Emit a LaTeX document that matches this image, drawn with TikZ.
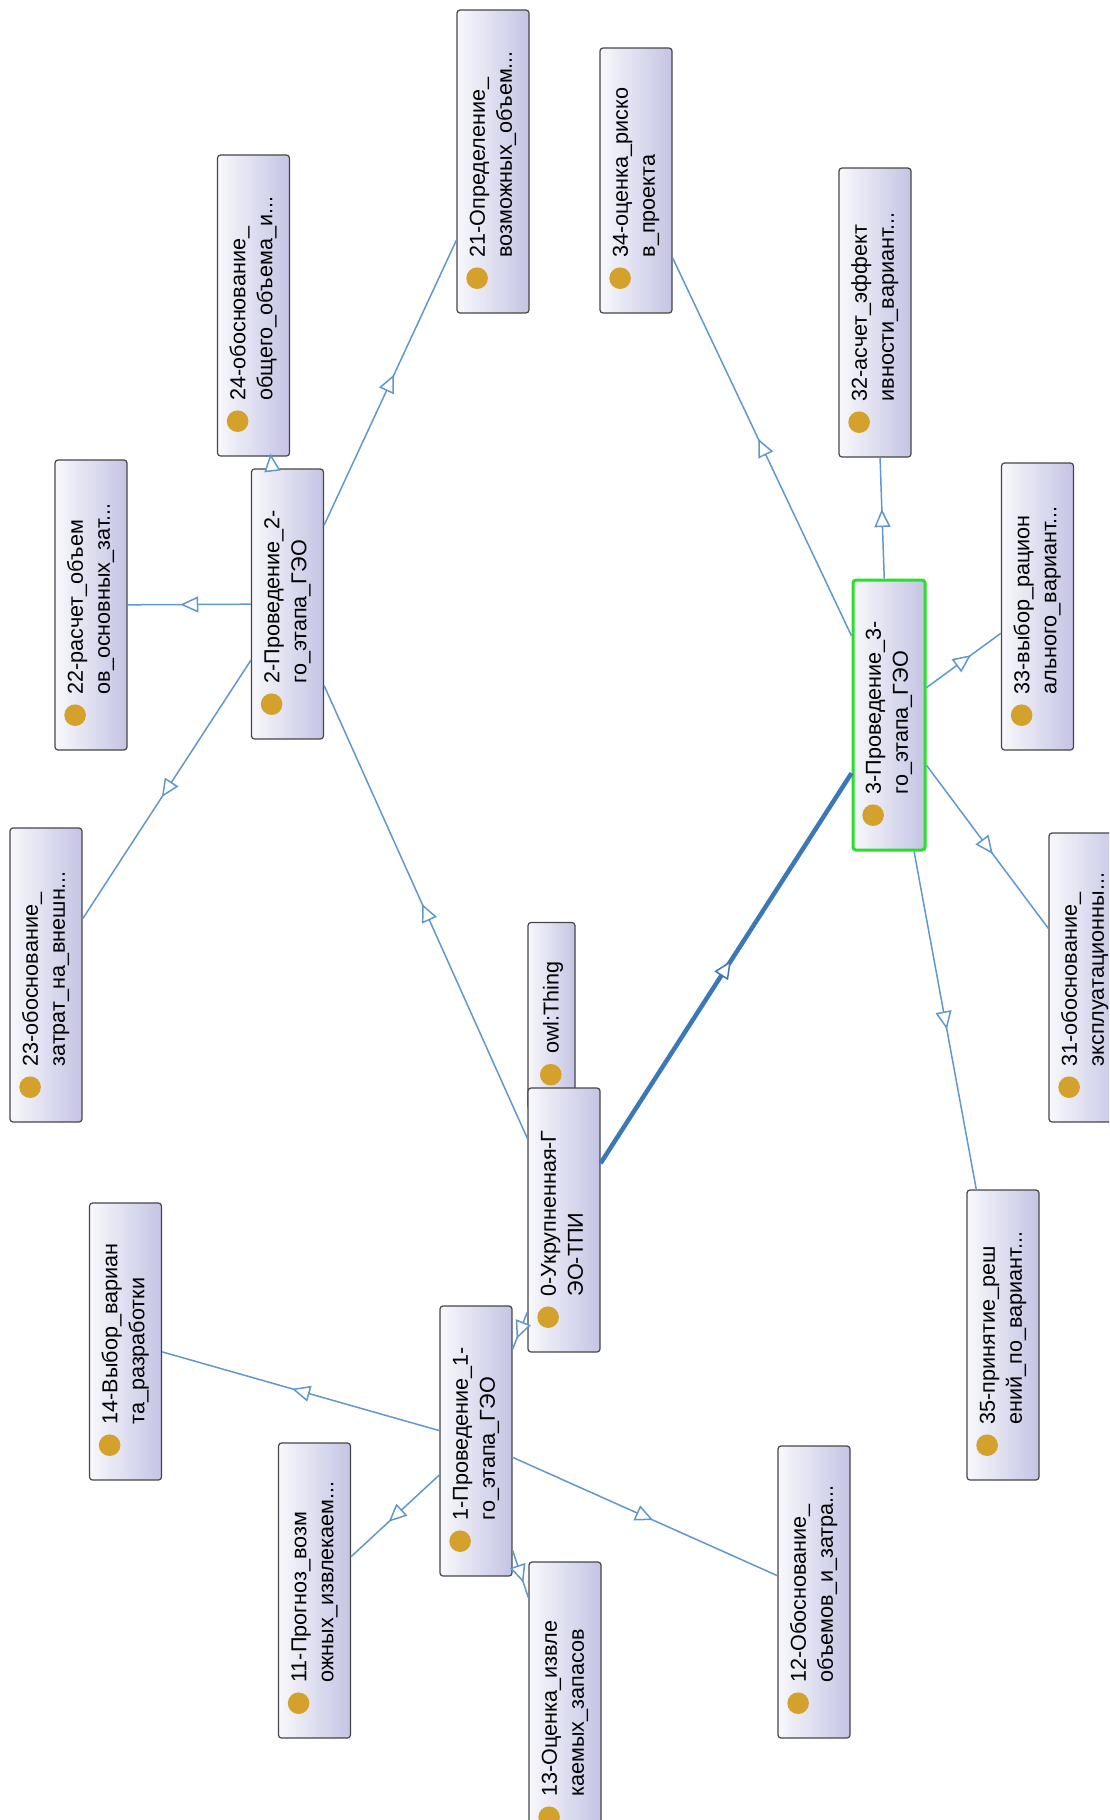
\documentclass[tikz,border=0pt]{standalone}
\usepackage{fontspec}
\setmainfont{Liberation Sans}
\usepackage{tikz}
\usepackage{color}
\usetikzlibrary{arrows.meta,decorations.markings}

\definecolor{edgeblue}{RGB}{96,152,206}
\definecolor{selblue}{RGB}{58,120,184}
\definecolor{boxline}{RGB}{70,70,70}
\definecolor{boxlight}{RGB}{248,248,252}
\definecolor{boxdark}{RGB}{196,196,228}
\definecolor{dotgold}{RGB}{212,162,44}
\definecolor{selgreen}{RGB}{40,224,40}

\newcommand{\clsdot}{\tikz[baseline=-3.9pt]\fill[dotgold] (0,0) circle (5.4pt);\hspace{5pt}}
\newcommand{\clsbox}[2]{\clsdot\begin{tabular}[t]{@{}l@{}}#1\\#2\end{tabular}}

\begin{document}
\begin{tikzpicture}[x=0.5pt,y=-0.5pt,
  box/.style={rotate=90,draw=boxline,line width=0.6pt,rounded corners=1.5pt,
    left color=boxlight,right color=boxdark,inner xsep=12pt,inner ysep=0pt,
    minimum height=36pt,text width=#1,align=left,font=\fontsize{10.8}{13.5}\selectfont},
  isa/.style={draw=edgeblue,line width=0.75pt,postaction={decorate},
    decoration={markings,mark=at position 0.5 with
      {\arrow[xshift=4.5pt]{Triangle[fill=white,length=9pt,width=8pt,line width=0.75pt]}}}}]
\useasboundingbox (0,0) rectangle (1109,1820);
\clip (0,0) rectangle (1109,1820);

% 2nd stage
\node[box=127.5pt] (c21) at (493,161.5) {\clsbox{21-Определение\_}{возможных\_объем...}};
\node[box=126.5pt] (c24) at (253.5,305.5) {\clsbox{24-обоснование\_}{общего\_объема\_и...}};
\node[box=121pt] (c22) at (91,605) {\clsbox{22-расчет\_объем}{ов\_основных\_зат...}};
\node[box=111pt] (c2) at (287.5,604) {\clsbox{2-Проведение\_2-}{го\_этапа\_ГЭО}};
\node[box=123pt] (c23) at (46,975) {\clsbox{23-обоснование\_}{затрат\_на\_внешн...}};

% 3rd stage
\node[box=108.5pt] (c34) at (636,180.5) {\clsbox{34-оценка\_риско}{в\_проекта}};
\node[box=120.5pt] (c32) at (875,312.5) {\clsbox{32-асчет\_эффект}{ивности\_вариант...}};
\node[box=119.5pt] (c33) at (1037.5,606.5) {\clsbox{33-выбор\_рацион}{ального\_вариант...}};
\node[box=111pt,draw=selgreen,line width=1.5pt] (c3) at (889,715) {\clsbox{3-Проведение\_3-}{го\_этапа\_ГЭО}};
\node[box=120.5pt] (c31) at (1085,977.5) {\clsbox{31-обоснование\_}{эксплуатационны...}};
\node[box=121pt] (c35) at (1003,1335) {\clsbox{35-принятие\_реш}{ений\_по\_вариант...}};

% root
\node[box=69.5pt,minimum height=23.5pt] (thing) at (551.5,1016) {\clsdot owl:Thing};
\node[box=108pt] (c0) at (564,1220) {\clsbox{0-Укрупненная-Г}{ЭО-ТПИ}};

% 1st stage
\node[box=114.5pt] (c14) at (125.5,1341.5) {\clsbox{14-Выбор\_вариан}{та\_разработки}};
\node[box=111pt] (c1) at (476,1441) {\clsbox{1-Проведение\_1-}{го\_этапа\_ГЭО}};
\node[box=123.5pt] (c11) at (314.5,1590.5) {\clsbox{11-Прогноз\_возм}{ожных\_извлекаем...}};
\node[box=122pt] (c12) at (814,1592) {\clsbox{12-Обоснование\_}{объемов\_и\_затра...}};
\node[box=121pt] (c13) at (565,1707) {\clsbox{13-Оценка\_извле}{каемых\_запасов}};

\draw[isa] (c0) -- (c1);
\draw[isa] (c0) -- (c2);
\draw[isa,draw=selblue,line width=2.25pt] (c0) -- (c3);
\draw[isa] (c1) -- (c11);
\draw[isa] (c1) -- (c12);
\draw[isa] (c1) -- (c13);
\draw[isa] (c1) -- (c14);
\draw[isa] (c2) -- (c21);
\draw[isa] (c2) -- (c22);
\draw[isa] (c2) -- (c23);
\draw[isa] (c2) -- (c24);
\draw[isa] (c3) -- (c31);
\draw[isa] (c3) -- (c32);
\draw[isa] (c3) -- (c33);
\draw[isa] (c3) -- (c34);
\draw[isa] (c3) -- (c35);
\end{tikzpicture}
\end{document}
